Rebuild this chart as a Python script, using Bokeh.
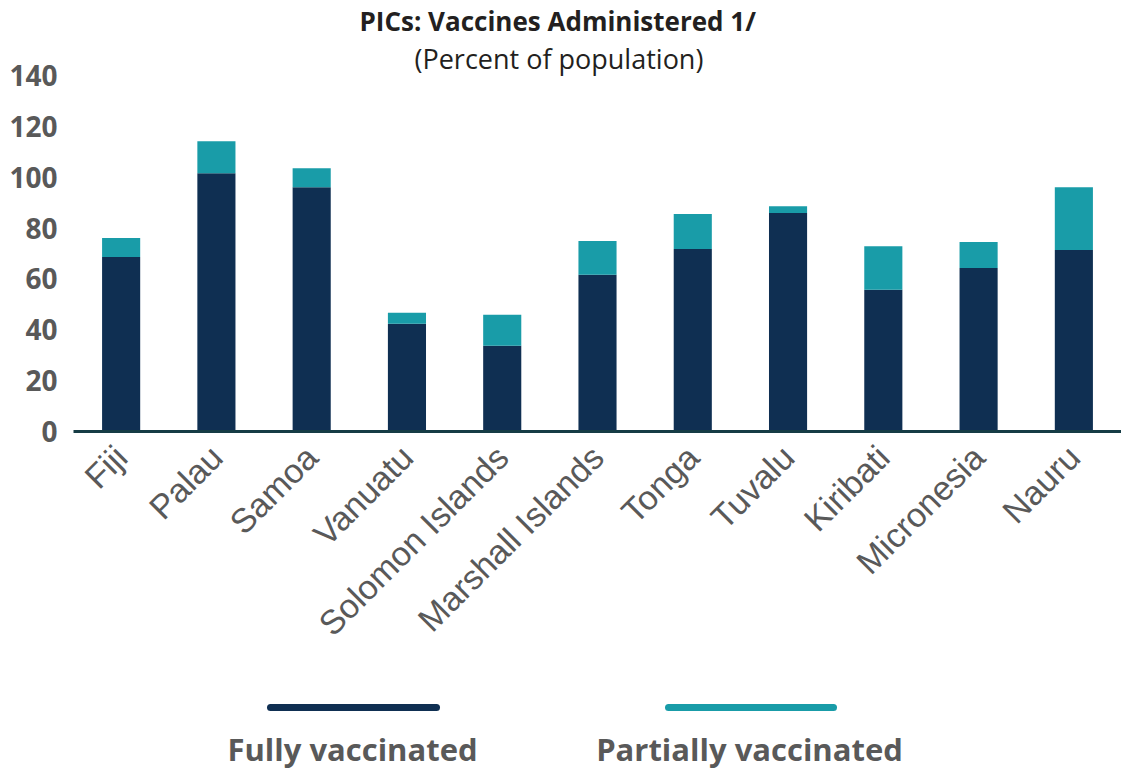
import math
from bokeh.plotting import figure
from bokeh.models import FactorRange, Range1d, FixedTicker, Title, ColumnDataSource
from bokeh.layouts import column
from bokeh.embed import file_html
from bokeh.resources import INLINE
from bokeh.core.properties import value

countries = ["Fiji", "Palau", "Samoa", "Vanuatu", "Solomon Islands", "Marshall Islands",
             "Tonga", "Tuvalu", "Kiribati", "Micronesia", "Nauru"]
fully = [68.6, 101.6, 96.1, 42.4, 33.7, 61.6, 71.8, 85.9, 55.7, 64.3, 71.4]
partial = [7.5, 12.5, 7.4, 4.3, 12.2, 13.3, 13.7, 2.7, 17.2, 10.2, 24.7]
series = ["Fully vaccinated", "Partially vaccinated"]
colors = ["#0f2f52", "#199ca8"]
y_ticks = [0, 20, 40, 60, 80, 100, 120, 140]

src = ColumnDataSource(dict(country=countries, fully=fully, partial=partial))

W = 1121
FRAME_L = 73
H_MAIN = 666
p = figure(x_range=FactorRange(factors=countries), y_range=Range1d(0, 140),
           width=W, height=H_MAIN, output_backend="svg", toolbar_location=None,
           min_border_left=FRAME_L, min_border_right=0, min_border_top=60,
           min_border_bottom=235)
p.vbar_stack(["fully", "partial"], x="country", width=0.4, color=colors,
             line_color=None, source=src)

p.add_layout(Title(text="(Percent of population)", align="left", offset=341,
                   text_font="Open Sans", text_font_size="27px",
                   text_font_style="normal", text_color="#231f20", standoff=-3), "above")
p.add_layout(Title(text="PICs: Vaccines Administered 1/", align="left", offset=286,
                   text_font="Open Sans", text_font_size="26px",
                   text_font_style="bold", text_color="#231f20", standoff=1), "above")

p.outline_line_color = None
p.xgrid.grid_line_color = None
p.ygrid.grid_line_color = None

p.xaxis.axis_line_width = 3
p.xaxis.axis_line_color = "#163c45"
p.xaxis.major_tick_line_color = None
p.xaxis.minor_tick_line_color = None
p.xaxis.major_label_orientation = math.pi / 4
p.xaxis.major_label_text_font = "Liberation Sans"
p.xaxis.major_label_text_font_size = "34px"
p.xaxis.major_label_text_color = "#595959"
p.xaxis.major_label_standoff = 14

p.yaxis.ticker = FixedTicker(ticks=y_ticks)
p.yaxis.axis_line_color = None
p.yaxis.major_tick_line_color = None
p.yaxis.minor_tick_line_color = None
p.yaxis.major_label_text_font = "Open Sans"
p.yaxis.major_label_text_font_style = "bold"
p.yaxis.major_label_text_font_size = "28px"
p.yaxis.major_label_text_color = "#595959"
p.yaxis.major_label_standoff = 10

# legend strip (frame is aligned with the main frame; x in page pixels)
H_LEG = 103
lg = figure(x_range=Range1d(FRAME_L, W), y_range=Range1d(H_LEG, 0), width=W, height=H_LEG,
            output_backend="svg", toolbar_location=None, title=None,
            x_axis_location=None, y_axis_location=None,
            min_border_left=0, min_border_right=0, min_border_top=0, min_border_bottom=0)
lg.grid.visible = False
lg.outline_line_color = None
line_x = [(270, 436), (668, 833)]
text_x = [352, 749]
for name, c, (x0, x1), tx in zip(series, colors, line_x, text_x):
    lg.line([x0, x1], [41, 41], line_color=c, line_width=7, line_cap="round")
    lg.text(x=[tx], y=[82], text=[name], text_align="center", text_baseline="middle",
            text_font=value("Open Sans"), text_font_style="bold", text_font_size="31px",
            text_color="#595959")

layout = column(p, lg, spacing=0)
open("out.html", "w").write(file_html(layout, INLINE))
